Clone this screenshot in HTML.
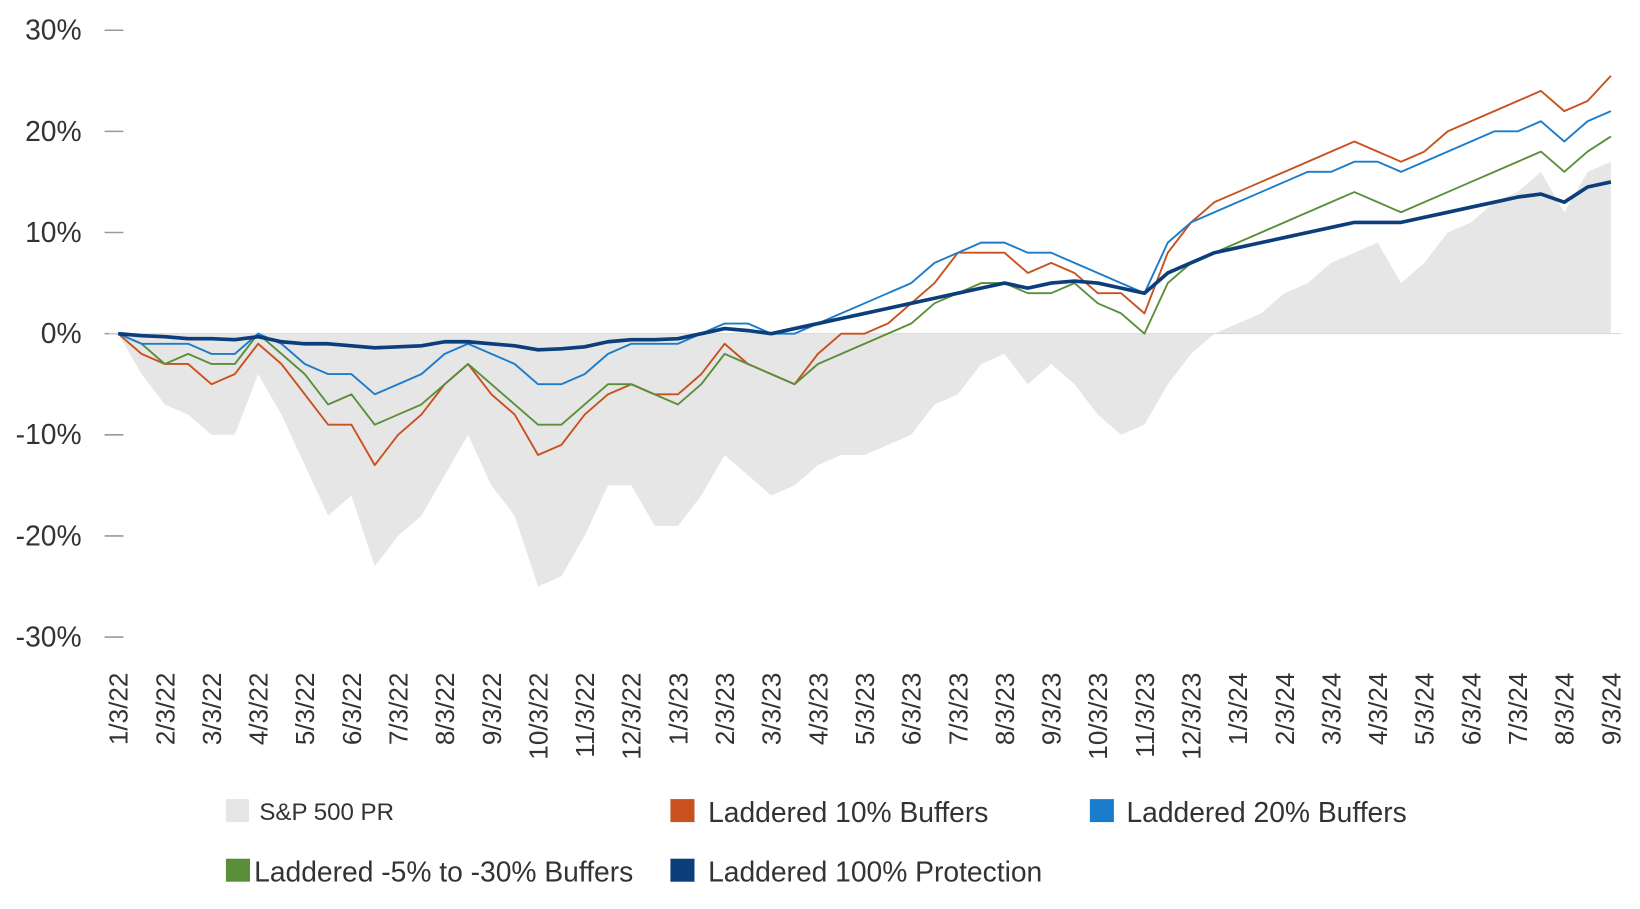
<!DOCTYPE html>
<html><head><meta charset="utf-8">
<style>
body{margin:0;background:#fff;}
svg text{font-family:"Liberation Sans",sans-serif;fill:#333;}
</style></head>
<body>
<svg id="chart" width="1640" height="904" viewBox="0 0 1568 864.3" preserveAspectRatio="none" xmlns="http://www.w3.org/2000/svg">
<g id="yaxis"></g>
<g id="xaxis"></g>
<g id="plot"></g>
<g id="legend">
  <g>
    <rect x="216" y="764" width="22" height="22" fill="#e6e6e6"/>
    <text x="248" y="784" font-size="23">S&amp;P 500 PR</text>
  </g>
  <g>
    <rect x="641" y="764" width="23" height="22" fill="#c8511d"/>
    <text x="677" y="786" font-size="27">Laddered 10% Buffers</text>
  </g>
  <g>
    <rect x="1042" y="764" width="23" height="22" fill="#1b7ccc"/>
    <text x="1077" y="786" font-size="27">Laddered 20% Buffers</text>
  </g>
  <g>
    <rect x="216" y="821" width="23" height="22" fill="#5a8f3a"/>
    <text x="243" y="843" font-size="27">Laddered -5% to -30% Buffers</text>
  </g>
  <g>
    <rect x="641" y="821" width="23" height="22" fill="#0b3e7a"/>
    <text x="677" y="843" font-size="27">Laddered 100% Protection</text>
  </g>
</g>
</svg>
<script>
const monthLabels = ["1/3/22","2/3/22","3/3/22","4/3/22","5/3/22","6/3/22","7/3/22","8/3/22","9/3/22","10/3/22","11/3/22","12/3/22","1/3/23","2/3/23","3/3/23","4/3/23","5/3/23","6/3/23","7/3/23","8/3/23","9/3/23","10/3/23","11/3/23","12/3/23","1/3/24","2/3/24","3/3/24","4/3/24","5/3/24","6/3/24","7/3/24","8/3/24","9/3/24"];
const yTicks = [30,20,10,0,-10,-20,-30];
// semi-monthly observations, 1/3/22 .. 9/3/24
const sp500 = [0,-4,-7,-8,-10,-10,-4,-8,-13,-18,-16,-23,-20,-18,-14,-10,-15,-18,-25,-24,-20,-15,-15,-19,-19,-16,-12,-14,-16,-15,-13,-12,-12,-11,-10,-7,-6,-3,-2,-5,-3,-5,-8,-10,-9,-5,-2,0,1,2,4,5,7,8,9,5,7,10,11,13,14,16,12,16,17];
const lad10 = [0,-2,-3,-3,-5,-4,-1,-3,-6,-9,-9,-13,-10,-8,-5,-3,-6,-8,-12,-11,-8,-6,-5,-6,-6,-4,-1,-3,-4,-5,-2,0,0,1,3,5,8,8,8,6,7,6,4,4,2,8,11,13,14,15,16,17,18,19,18,17,18,20,21,22,23,24,22,23,25.5];
const lad20 = [0,-1,-1,-1,-2,-2,0,-1,-3,-4,-4,-6,-5,-4,-2,-1,-2,-3,-5,-5,-4,-2,-1,-1,-1,0,1,1,0,0,1,2,3,4,5,7,8,9,9,8,8,7,6,5,4,9,11,12,13,14,15,16,16,17,17,16,17,18,19,20,20,21,19,21,22];
const ladGreen = [0,-1,-3,-2,-3,-3,0,-2,-4,-7,-6,-9,-8,-7,-5,-3,-5,-7,-9,-9,-7,-5,-5,-6,-7,-5,-2,-3,-4,-5,-3,-2,-1,0,1,3,4,5,5,4,4,5,3,2,0,5,7,8,9,10,11,12,13,14,13,12,13,14,15,16,17,18,16,18,19.5];
const lad100 = [0,-0.2,-0.3,-0.5,-0.5,-0.6,-0.3,-0.8,-1,-1,-1.2,-1.4,-1.3,-1.2,-0.8,-0.8,-1,-1.2,-1.6,-1.5,-1.3,-0.8,-0.6,-0.6,-0.5,0,0.5,0.3,0,0.5,1,1.5,2,2.5,3,3.5,4,4.5,5,4.5,5,5.2,5,4.5,4,6,7,8,8.5,9,9.5,10,10.5,11,11,11,11.5,12,12.5,13,13.5,13.8,13,14.5,15];

const NS="http://www.w3.org/2000/svg";
const X0=113, DX=44.6, Y0=319, PY=9.67;
const xm = m => X0 + m*DX;
const xi = i => xm(i/2);
const y = v => Y0 - v*PY;
function mk(tag, attrs, parent){const e=document.createElementNS(NS,tag);for(const k in attrs)e.setAttribute(k,attrs[k]);parent.appendChild(e);return e;}

const yax=document.getElementById('yaxis');
yTicks.forEach(t=>{
  const l=mk('line',{x1:100,x2:118,y1:y(t),y2:y(t),stroke:'#999','stroke-width':1.5},yax);
  
  
  const tx=mk('text',{x:78,y:y(t)+9,'text-anchor':'end','font-size':27},yax);
  tx.textContent=t+'%';
  
  
});
const xax=document.getElementById('xaxis');
monthLabels.forEach((lab,m)=>{
  const tx=mk('text',{transform:`translate(${xm(m)+9},643) rotate(-90)`,'text-anchor':'end','font-size':25},xax);
  tx.textContent=lab;
  
  
});

const plot=document.getElementById('plot');
let d=`M${xi(0)},${Y0}`;
sp500.forEach((v,i)=>{d+=` L${xi(i)},${y(v)}`;});
d+=` L${xi(sp500.length-1)},${Y0} Z`;
const area=mk('path',{d:d,fill:'#e6e6e6'},plot);


const zl=mk('line',{x1:104,x2:1550,y1:Y0,y2:Y0,stroke:'#d8d8d8','stroke-width':1},plot);



function line(arr,color,w,name){
  const p=mk('path',{d:arr.map((v,i)=>(i?'L':'M')+xi(i)+','+y(v)).join(' '),fill:'none',stroke:color,'stroke-width':w,'stroke-linejoin':'round'},plot);
  
  
}
line(lad10,'#c8511d',1.8,'laddered-10-line');
line(ladGreen,'#5a8f3a',1.8,'laddered-5-30-line');
line(lad20,'#1b7ccc',1.8,'laddered-20-line');
line(lad100,'#0b3e7a',3.5,'laddered-100-line');
</script>
</body></html>
